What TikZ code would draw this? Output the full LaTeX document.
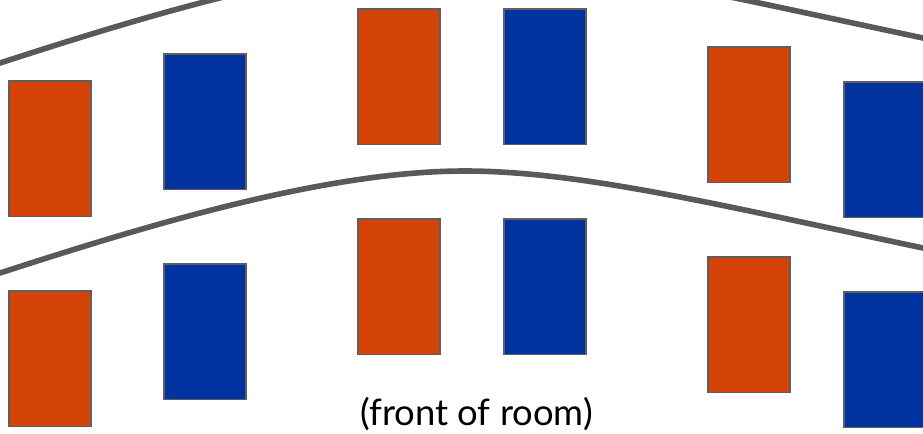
\documentclass[tikz,border=0pt]{standalone}
\usepackage{fontspec}
\setmainfont{Lato}
\definecolor{deskorange}{RGB}{212,68,9}
\definecolor{deskblue}{RGB}{0,51,160}
\definecolor{deskedge}{RGB}{95,95,95}
\definecolor{rowline}{RGB}{89,89,89}
\tikzset{
  desk/.style={draw=deskedge, line width=1.1pt},
  od/.style={desk, fill=deskorange},
  bd/.style={desk, fill=deskblue},
  rowcurve/.style={draw=rowline, line width=4.2pt}
}
\begin{document}
\begin{tikzpicture}[x=0.75pt,y=-0.75pt]
\useasboundingbox (0,0) rectangle (923,433);
% two rows of desks, each row 210 units behind the next
\foreach \dy in {0,210}{
  \draw[od] (9,81+\dy)   rectangle ++(82,135.5);
  \draw[bd] (164,54+\dy) rectangle ++(82,135.5);
  \draw[od] (358,9+\dy)  rectangle ++(82,135.5);
  \draw[bd] (504,9+\dy)  rectangle ++(82,135.5);
  \draw[od] (708,47+\dy) rectangle ++(82,135.5);
  \draw[bd] (844,82+\dy) rectangle ++(82,135.5);
  % curved row guide in front of each row
  \draw[rowcurve] (-20,69.5+\dy) -- (0,63+\dy)
    .. controls (160,11+\dy) and (330,-39+\dy) .. (465,-39+\dy)
    .. controls (580,-39+\dy) and (720,-5+\dy) .. (923,38+\dy)
    -- (943,42+\dy);
}
\node[font=\fontsize{27.3}{30}\selectfont, inner sep=0pt] (front) at (476.5,414) {(front of room)};
\end{tikzpicture}
\end{document}
